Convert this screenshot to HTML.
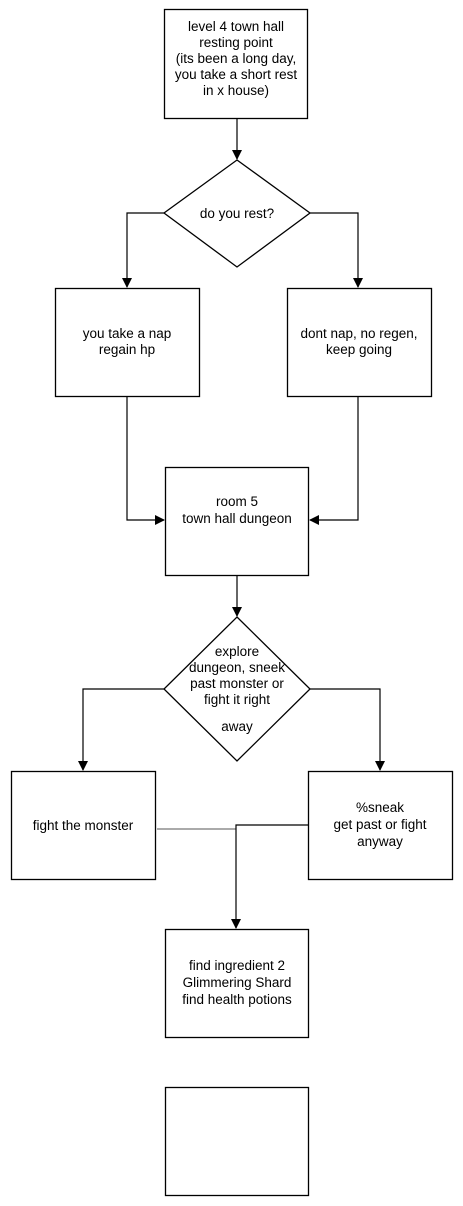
<!DOCTYPE html>
<html><head><style>
html,body{margin:0;padding:0;background:#fff;}
svg{display:block;}
text{font-family:"Liberation Sans",sans-serif;font-size:13.5px;fill:#000;text-anchor:middle;}
</style></head><body>
<svg width="463" height="1206" viewBox="0 0 463 1206" xmlns="http://www.w3.org/2000/svg">
<defs><marker id="a" markerWidth="10" markerHeight="10" refX="9" refY="5" orient="auto" markerUnits="userSpaceOnUse"><path d="M0,0 L10,5 L0,10 z" fill="#000"/></marker></defs>
<g fill="#fff" stroke="#000" stroke-width="1.3">
<rect x="164.5" y="9.5" width="143" height="109"/>
<polygon points="237,160 310,213 237,267 164,213"/>
<rect x="55.5" y="288.5" width="144" height="108"/>
<rect x="287.5" y="288.5" width="144" height="108"/>
<rect x="165.5" y="467.5" width="143" height="108"/>
<polygon points="237,617 310,689 237,761 164,689"/>
<rect x="11.5" y="771.5" width="144" height="108"/>
<rect x="308.5" y="771.5" width="144" height="108"/>
<rect x="165.5" y="929.5" width="143" height="108"/>
<rect x="165.5" y="1087.5" width="143" height="108"/>
</g>
<g fill="none" stroke="#000" stroke-width="1.2">
<path d="M237,119 V159" marker-end="url(#a)"/>
<path d="M164,213 H127 V287" marker-end="url(#a)"/>
<path d="M310,213 H358 V287" marker-end="url(#a)"/>
<path d="M127,397 V520 H164" marker-end="url(#a)"/>
<path d="M358,397 V520 H310" marker-end="url(#a)"/>
<path d="M237,576 V616" marker-end="url(#a)"/>
<path d="M164,689 H83 V770" marker-end="url(#a)"/>
<path d="M310,689 H380 V770" marker-end="url(#a)"/>
<path d="M157,829 H236" stroke="#777"/>
<path d="M308,825 H236 V928" marker-end="url(#a)"/>
</g>
<text x="236" y="31">level 4 town hall</text>
<text x="236" y="47">resting point</text>
<text x="236" y="63">(its been a long day,</text>
<text x="236" y="79">you take a short rest</text>
<text x="236" y="95">in x house)</text>
<text x="237" y="218">do you rest?</text>
<text x="127" y="338">you take a nap</text>
<text x="127" y="354">regain hp</text>
<text x="359" y="338">dont nap, no regen,</text>
<text x="359" y="354">keep going</text>
<text x="237" y="506">room 5</text>
<text x="237" y="523">town hall dungeon</text>
<text x="237" y="656">explore</text>
<text x="237" y="672">dungeon, sneek</text>
<text x="237" y="688">past monster or</text>
<text x="237" y="704">fight it right</text>
<text x="237" y="731">away</text>
<text x="83" y="830">fight the monster</text>
<text x="380" y="812">%sneak</text>
<text x="380" y="829">get past or fight</text>
<text x="380" y="846">anyway</text>
<text x="237" y="970">find ingredient 2</text>
<text x="237" y="987">Glimmering Shard</text>
<text x="237" y="1004">find health potions</text>
</svg>
</body></html>
